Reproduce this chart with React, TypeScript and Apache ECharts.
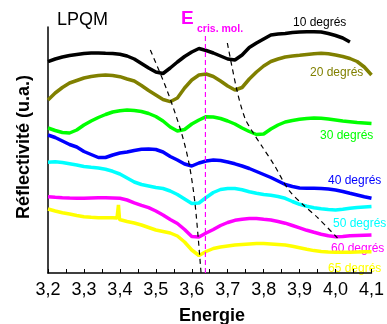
import React, { useEffect, useRef } from "react";
import * as echarts from "echarts";

// Photon energy grid (eV)
const energies = [
  3.2, 3.22, 3.24, 3.26, 3.28, 3.3, 3.32, 3.34, 3.36, 3.38,
  3.4, 3.42, 3.44, 3.46, 3.48, 3.5, 3.52, 3.54, 3.56, 3.58,
  3.6, 3.62, 3.64, 3.66, 3.68, 3.7, 3.72, 3.74, 3.76, 3.78,
  3.8, 3.82, 3.84, 3.86, 3.88, 3.9, 3.92, 3.94, 3.96, 3.98,
  4.0, 4.02, 4.04, 4.06, 4.08, 4.1,
];

// Reflectivity (arbitrary units, offset curves)
const r10 = [
  211.3, 214, 216, 217.5, 218.5, 219.5, 220, 220, 219.7, 219.5,
  218.7, 217, 214, 209.5, 205, 201, 199.5, 205, 211, 216.5,
  221, 224.5, 222.5, 220, 217, 214, 213, 218, 225.5, 230,
  234, 238, 239, 239.5, 240.5, 241, 241.3, 241.3, 241, 239.5,
  237.5, 235, 231, null, null, null,
];
const r20 = [
  173, 180, 185.5, 190, 192.5, 195, 196.5, 197.5, 198, 197.5,
  196.3, 194, 192, 187.5, 182.5, 178, 173.5, 171.3, 175, 185,
  193, 198, 199, 196.5, 192, 187, 183, 185.5, 194, 201,
  207, 211.5, 214, 216, 217, 217.7, 218.5, 219.2, 219.7, 219.2,
  218, 216.5, 214.5, 211.5, 206, 198,
];
const r30 = [
  145, 142.5, 140.5, 140, 143, 148, 152, 155.5, 158.5, 161,
  162.3, 163, 162.5, 161.5, 159.5, 156.5, 152, 146, 142, 143.5,
  149, 153, 156.3, 156, 154.5, 152, 149, 145, 141.5, 138.5,
  139, 144, 148, 151, 152.5, 153.7, 154.5, 155, 154.7, 154,
  153, 152, 151.3, 150.5, 150, 149.5,
];
const r40 = [
  138, 135.5, 132, 128.5, 126, 121.5, 118.5, 115.5, 115.5, 118,
  120, 121, 122.5, 123.7, 124, 123.5, 121, 116.5, 113, 109,
  107, 110, 112, 113, 112.5, 111, 109.2, 107, 104.5, 101.5,
  98.5, 95.5, 92, 88.5, 86.5, 85, 84.7, 84.7, 84.5, 84,
  83, 81.5, 79.7, 78, 76.2, 74.7,
];
const r50 = [
  110.7, 111.3, 110.5, 109.3, 108, 106.5, 105.7, 105, 103.7, 101.7,
  99, 95, 91, 88.5, 87, 85.5, 84.5, 82, 78.5, 74,
  69.5, 70, 75.5, 80.5, 83.5, 84.5, 84.5, 83.2, 81.2, 79.7,
  78.5, 77.7, 76.5, 74.7, 71.5, 68.7, 66.7, 65.3, 64.3, 63.5,
  63, 63.7, 64.7, 65.5, 66, 66.5,
];
const r60 = [
  76.3, 75.7, 75.3, 75, 74.8, 74.7, 75, 75.3, 75.3, 75,
  74.7, 73, 70.2, 67.7, 65.3, 62, 58, 53.5, 49.5, 43.5,
  36.5, 36, 40, 43.5, 47.5, 50.5, 52.7, 53.8, 54.5, 54.5,
  53.7, 53, 51.5, 49.8, 47.5, 45.2, 42.7, 40.7, 38.8, 37.2,
  36.3, 36.5, 37.2, 37.5, 37.8, 38,
];
const r65 = [
  64, 62, 60.2, 59, 57.5, 56.3, 55.7, 55.3, 55.2, 55.3,
  53, 51.5, 50, 48, 45.5, 43, 41.5, 40, 37, 31,
  23, 17.5, 21.5, 24.5, 26, 27, 28, 28.5, 29, 29.5,
  29.5, 29, 28.5, 28, 26.7, 25.2, 23.7, 22.4, 21.5, 21,
  20.7, 20.7, 20.8, 21, 21.2, 21.3,
];
// narrow spike on the 65° curve
const spike65E = [3.392, 3.396, 3.399];
const spike65R = [55, 68, 53.5];

// guide lines
const guide1E = [3.4847, 3.5308, 3.5715, 3.5932, 3.6095, 3.6258];
const guide1R = [223, 183, 140, 108, 68, 0];
const guide2E = [3.699, 3.7261, 3.7478, 3.7695, 3.7966, 3.8292, 3.8698, 3.9105, 3.9512, 4.0054];
const guide2R = [230, 182, 155, 141, 126, 108, 83, 68, 55, 35];
const eCrisMol = 3.638;
const eCrisRange = [0, 240];

const xTicks = { min: 3.2, max: 4.1, interval: 0.1 };

const seriesNames = ["10 degrés", "20 degrés", "30 degrés", "40 degrés", "50 degrés", "60 degrés", "65 degrés"];
const seriesColors = ["#000000", "#808000", "#00ff00", "#0000ff", "#00ffff", "#ff00ff", "#ffff00"];
const seriesValues = [r10, r20, r30, r40, r50, r60, r65];

const FONT = '"Liberation Sans", Arial, sans-serif';

function pairs(xs: number[], ys: (number | null)[]) {
  const out: [number, number][] = [];
  xs.forEach((x, i) => {
    const y = ys[i];
    if (y !== null && y !== undefined) out.push([x, y]);
  });
  return out;
}

export default function App() {
  const ref = useRef<HTMLDivElement>(null);
  useEffect(() => {
    const chart = echarts.init(ref.current!, null, { renderer: "svg" });

    const curveSeries = seriesValues.map((vals, k) => {
      let data = pairs(energies, vals);
      if (k === 6) {
        data = data.concat(pairs(spike65E, spike65R)).sort((a, b) => a[0] - b[0]);
      }
      return {
        type: "line",
        name: seriesNames[k],
        data,
        showSymbol: false,
        symbol: "none",
        lineStyle: { color: seriesColors[k], width: 3.5 },
        z: 2,
      };
    });

    const labelPos = [
      [293, 22],
      [310, 72],
      [320, 135],
      [328, 179.5],
      [333, 222.5],
      [331, 247.5],
      [328, 267.5],
    ];

    const option: any = {
      animation: false,
      textStyle: { fontFamily: FONT },
      grid: { left: 48, right: 7, top: 27, bottom: 51 },
      xAxis: {
        type: "value",
        min: xTicks.min,
        max: xTicks.max,
        interval: xTicks.interval,
        axisLine: { show: true, lineStyle: { color: "#000", width: 1.5 } },
        axisTick: { show: true, inside: true, length: 4, lineStyle: { color: "#000", width: 1 } },
        minorTick: { show: true, splitNumber: 2, length: 4, lineStyle: { color: "#000", width: 1 } },
        splitLine: { show: false },
        axisLabel: {
          color: "#000",
          fontSize: 18,
          fontFamily: FONT,
          margin: 7,
          formatter: (v: number) => v.toFixed(1).replace(".", ","),
        },
      },
      yAxis: {
        type: "value",
        min: 0,
        max: 246,
        axisLine: { show: true, lineStyle: { color: "#000", width: 1.5 } },
        axisTick: { show: false },
        axisLabel: { show: false },
        splitLine: { show: false },
      },
      series: [
        ...curveSeries,
        {
          type: "line",
          data: pairs(guide1E, guide1R),
          showSymbol: false,
          symbol: "none",
          smooth: 0.3,
          lineStyle: { color: "#000", width: 1.2, type: [5, 4] },
          z: 3,
        },
        {
          type: "line",
          data: pairs(guide2E, guide2R),
          showSymbol: false,
          symbol: "none",
          smooth: 0.3,
          lineStyle: { color: "#000", width: 1.2, type: [5, 4] },
          z: 3,
        },
        {
          type: "line",
          data: [
            [eCrisMol, eCrisRange[0]],
            [eCrisMol, eCrisRange[1]],
          ],
          showSymbol: false,
          symbol: "none",
          lineStyle: { color: "#ff00ff", width: 1.2, type: [5, 3] },
          z: 3,
        },
      ],
      graphic: [
        {
          type: "text",
          x: 57,
          y: 18.5,
          style: { text: "LPQM", fill: "#000", fontSize: 18, fontFamily: FONT, align: "left", verticalAlign: "middle" },
        },
        {
          type: "text",
          x: 181,
          y: 17.5,
          style: { text: "E", fill: "#ff00ff", fontSize: 19, fontWeight: "bold", fontFamily: FONT, align: "left", verticalAlign: "middle" },
        },
        {
          type: "text",
          x: 197,
          y: 27.5,
          style: { text: "cris. mol.", fill: "#ff00ff", fontSize: 10.5, fontWeight: "bold", fontFamily: FONT, align: "left", verticalAlign: "middle" },
        },
        ...seriesNames.map((n, k) => ({
          type: "text",
          x: labelPos[k][0],
          y: labelPos[k][1],
          style: { text: n, fill: seriesColors[k], fontSize: 12, fontFamily: FONT, align: "left", verticalAlign: "middle" },
        })),
        {
          type: "text",
          x: 212,
          y: 315,
          style: { text: "Energie", fill: "#000", fontSize: 18, fontWeight: "bold", fontFamily: FONT, align: "center", verticalAlign: "middle" },
        },
        {
          type: "text",
          x: 23,
          y: 147,
          rotation: Math.PI / 2,
          style: { text: "Réflectivité (u.a.)", fill: "#000", fontSize: 18, fontWeight: "bold", fontFamily: FONT, align: "center", verticalAlign: "middle" },
        },
      ],
    };

    chart.setOption(option);
    return () => chart.dispose();
  }, []);

  return <div ref={ref} style={{ position: "fixed", left: 0, top: 0, width: 387, height: 324 }} />;
}
